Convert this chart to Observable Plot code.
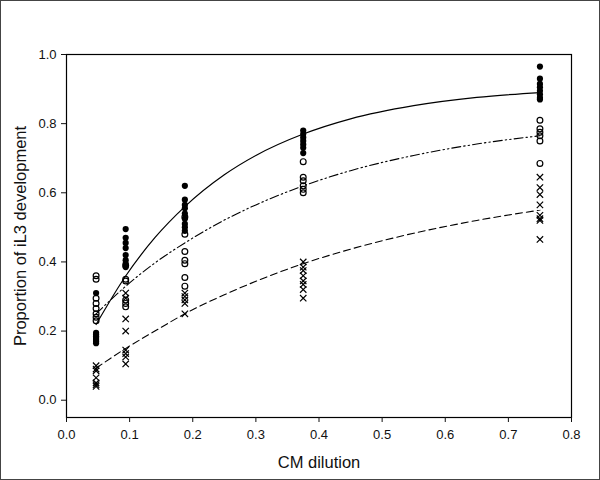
<!DOCTYPE html>
<html>
<head>
<meta charset="utf-8">
<script src="https://cdn.jsdelivr.net/npm/d3@7"></script>
<script src="https://cdn.jsdelivr.net/npm/@observablehq/plot@0.6"></script>
<style>
  body { margin: 0; background: #fff; }
  #chart svg { display: block; outline: 1px solid #444; outline-offset: -1px; }
</style>
</head>
<body>
<div id="chart"></div>
<script>
// CM dilution levels
const dilutions = [0.046875, 0.09375, 0.1875, 0.375, 0.75];

// Filled circles (one list per dilution)
const filledValues = [
  [0.31, 0.195, 0.19, 0.185, 0.18, 0.175, 0.17, 0.165],
  [0.495, 0.47, 0.455, 0.44, 0.42, 0.405, 0.395, 0.385],
  [0.62, 0.58, 0.565, 0.555, 0.54, 0.525, 0.51, 0.5, 0.49],
  [0.78, 0.77, 0.76, 0.75, 0.74, 0.73, 0.715],
  [0.965, 0.93, 0.915, 0.905, 0.895, 0.885, 0.875, 0.87]
];
// Open circles
const openValues = [
  [0.36, 0.35, 0.295, 0.28, 0.265, 0.25, 0.24, 0.23],
  [0.39, 0.35, 0.345, 0.29, 0.28, 0.27],
  [0.53, 0.48, 0.43, 0.405, 0.395, 0.355, 0.33],
  [0.69, 0.645, 0.635, 0.62, 0.61, 0.6],
  [0.81, 0.785, 0.775, 0.765, 0.75, 0.685]
];
// Crosses
const crossValues = [
  [0.10, 0.09, 0.085, 0.065, 0.05, 0.045, 0.04],
  [0.31, 0.295, 0.235, 0.2, 0.145, 0.135, 0.125, 0.105],
  [0.31, 0.30, 0.29, 0.28, 0.25],
  [0.40, 0.385, 0.375, 0.36, 0.345, 0.335, 0.32, 0.295],
  [0.645, 0.615, 0.595, 0.565, 0.535, 0.525, 0.52, 0.465]
];

// Fitted curves at these x positions
const curveX      = [0.046875, 0.094, 0.14, 0.1875, 0.25, 0.3, 0.375, 0.45, 0.55, 0.65, 0.75];
const solidCurve  = [0.219, 0.36, 0.47, 0.56, 0.652, 0.708, 0.77, 0.814, 0.852, 0.876, 0.89];
const dashDotCurve= [0.25, 0.33, 0.397, 0.455, 0.521, 0.565, 0.62, 0.664, 0.708, 0.741, 0.765];
const dashedCurve = [0.093, 0.15, 0.20, 0.25, 0.305, 0.344, 0.395, 0.437, 0.483, 0.52, 0.55];

const yTicks = [0.0, 0.2, 0.4, 0.6, 0.8, 1.0];
const xTicks = [0.0, 0.1, 0.2, 0.3, 0.4, 0.5, 0.6, 0.7, 0.8];

const flatten = (vals) => vals.flatMap((list, i) => list.map(v => ({x: dilutions[i], y: v})));
const filled = flatten(filledValues);
const open = flatten(openValues);
const crosses = flatten(crossValues);
const curveRows = (ys) => curveX.map((x, i) => ({x, y: ys[i]}));

const chart = Plot.plot({
  width: 600,
  height: 480,
  marginLeft: 66,
  marginRight: 29,
  marginTop: 54,
  marginBottom: 63,
  style: {fontFamily: "'Liberation Sans', Arial, sans-serif", fontSize: "13px", color: "#111", background: "#fff"},
  x: {domain: [0, 0.8], ticks: xTicks, tickFormat: d3.format(".1f"), tickSize: 5, tickPadding: 6, label: null},
  y: {domain: [-0.05, 1.0], ticks: yTicks, tickFormat: d3.format(".1f"), tickSize: 5, tickPadding: 5, label: null},
  marks: [
    Plot.frame({stroke: "#000", strokeWidth: 1.2}),
    Plot.axisX({ticks: xTicks, tickFormat: d3.format(".1f"), tickSize: 5, tickPadding: 7, fontSize: 13, label: null}),
    Plot.axisY({ticks: yTicks, tickFormat: d3.format(".1f"), tickSize: 5, tickPadding: 5, fontSize: 13, label: null}),
    Plot.line(curveRows(solidCurve), {x: "x", y: "y", curve: "monotone-x", stroke: "#000", strokeWidth: 1.2}),
    Plot.line(curveRows(dashDotCurve), {x: "x", y: "y", curve: "monotone-x", stroke: "#000", strokeWidth: 1.1, strokeDasharray: "9,3,1.5,3,1.5,3"}),
    Plot.line(curveRows(dashedCurve), {x: "x", y: "y", curve: "monotone-x", stroke: "#000", strokeWidth: 1.1, strokeDasharray: "7,4"}),
    Plot.dot(open, {x: "x", y: "y", r: 2.9, stroke: "#000", strokeWidth: 1.2, fill: "none"}),
    Plot.dot(crosses, {x: "x", y: "y", r: 3, symbol: "times", stroke: "#000", strokeWidth: 1.2}),
    Plot.dot(filled, {x: "x", y: "y", r: 3.1, fill: "#000", stroke: "none"}),
    Plot.text(["CM dilution"], {frameAnchor: "bottom", dy: 50, fontSize: 16.5, fill: "#111"}),
    Plot.text(["Proportion of iL3 development"], {frameAnchor: "left", dx: -46, rotate: -90, textAnchor: "middle", fontSize: 16.5, fill: "#111"})
  ]
});
document.getElementById("chart").appendChild(chart);
</script>
</body>
</html>
